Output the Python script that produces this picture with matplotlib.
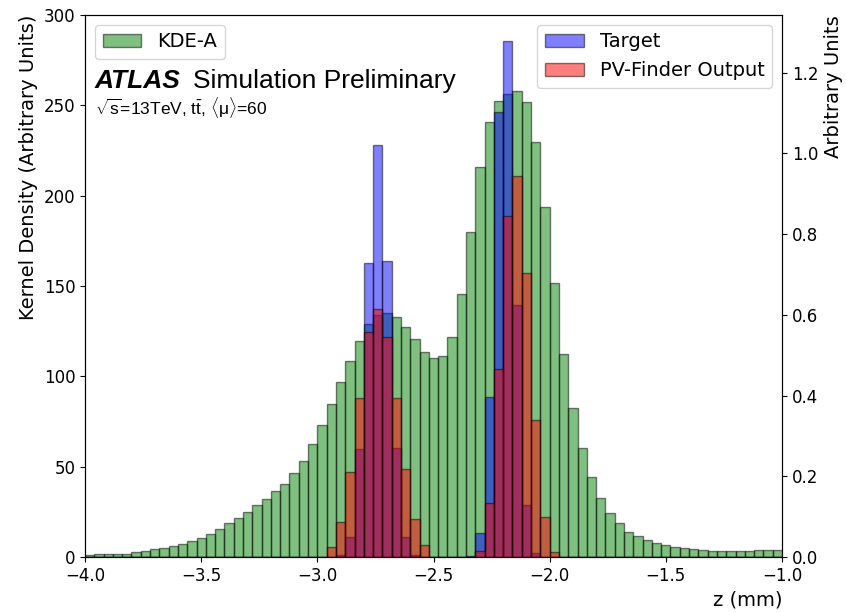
import numpy as np
import matplotlib
matplotlib.use("Agg")
import matplotlib.pyplot as plt

plt.rcParams['mathtext.fontset'] = 'custom'
plt.rcParams['mathtext.rm'] = 'Liberation Sans'
plt.rcParams['mathtext.it'] = 'Liberation Sans:italic'
plt.rcParams['mathtext.bf'] = 'Liberation Sans:bold'

# z range and binning (mm)
z_min, z_max, n_bins = -4.0, -1.0, 75

# KDE-A (left axis, kernel density)
kde_a = [1.0, 1.8, 1.8, 1.8, 1.8, 2.6, 3.4, 4.3, 5.2, 6.0,
         7.0, 8.7, 10.7, 12.7, 15.5, 19.0, 21.8, 25.1, 28.6, 31.9,
         36.3, 40.4, 46.7, 53.4, 62.5, 72.8, 84.6, 97.0, 108.6, 119.7,
         128.8, 133.9, 135.2, 133.0, 127.1, 120.5, 113.6, 109.9, 111.2, 121.9,
         145.4, 179.7, 215.7, 240.6, 252.2, 256.4, 257.7, 251.6, 229.7, 193.5,
         151.5, 112.4, 82.2, 60.3, 44.3, 32.8, 24.5, 19.0, 14.0, 11.5,
         9.4, 7.5, 6.9, 5.7, 4.9, 4.7, 4.0, 3.3, 3.3, 3.3,
         3.3, 3.3, 4.0, 4.0, 4.0]

# Target (right axis)
target = [0]*26 + [0.0, 0.004, 0.049, 0.267, 0.728, 1.021, 0.734, 0.270, 0.050, 0.004,
                   0.0, 0.0, 0.0, 0.0, 0.0, 0.002, 0.060, 0.397, 1.103, 1.279,
                   0.625, 0.128, 0.009] + [0]*26

# PV-Finder Output (right axis)
pv_finder = [0]*26 + [0.024, 0.087, 0.211, 0.393, 0.558, 0.614, 0.546, 0.395, 0.217, 0.095,
                      0.030, 0.0, 0.0, 0.0, 0.0, 0.0, 0.016, 0.133, 0.467, 0.845,
                      0.943, 0.704, 0.339, 0.098, 0.013] + [0]*24

edges = np.linspace(z_min, z_max, n_bins + 1)
left = edges[:-1]
width = np.diff(edges)

fig = plt.figure(figsize=(8.46, 6.12), dpi=100)
ax = fig.add_axes([85/846, 55/612, 697/846, 542/612])
ax.bar(left, kde_a, width=width, align='edge', color='green', alpha=0.5,
       edgecolor='black', linewidth=1, label='KDE-A')
ax.set_xlim(z_min, z_max)
ax.set_ylim(0, 300)
ax.set_ylabel('Kernel Density (Arbitrary Units)', fontsize=14, loc='top')
ax.set_xlabel('z (mm)', fontsize=14, loc='right')
ax.tick_params(labelsize=12)
ax.legend(loc='upper left', fontsize=14)

ax2 = ax.twinx()
ax2.bar(left, target, width=width, align='edge', color='blue', alpha=0.5,
        edgecolor='black', linewidth=1, label='Target')
ax2.bar(left, pv_finder, width=width, align='edge', color='red', alpha=0.5,
        edgecolor='black', linewidth=1, label='PV-Finder Output')
ax2.set_xlim(z_min, z_max)
ax2.set_ylabel('Arbitrary Units', fontsize=14, loc='top')
ax2.tick_params(labelsize=12)
ax2.legend(loc='upper right', fontsize=14)

ax.text(0.0143, 0.8650, 'ATLAS', transform=ax.transAxes, fontsize=19,
        family='Liberation Sans', weight='bold', style='italic')
ax.text(0.155, 0.8650, 'Simulation Preliminary', transform=ax.transAxes, fontsize=19,
        family='Liberation Sans')
ax.text(0.0143, 0.816, r'$\sqrt{\mathrm{s}}$=13TeV, $\mathrm{t\bar{t}}$, $\langle\mathrm{\mu}\rangle$=60',
        transform=ax.transAxes, fontsize=12.5, family='Liberation Sans')

fig.savefig('out.png', dpi=100)
